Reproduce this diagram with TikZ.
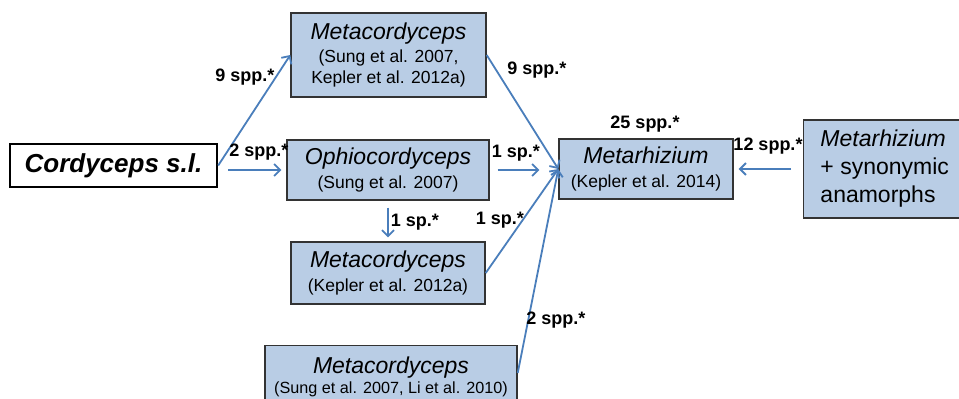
\documentclass[tikz,border=0pt]{standalone}
\usepackage{fontspec}
\setmainfont{Liberation Sans}
\usepackage{xcolor}
\usepackage{tikz}
\usetikzlibrary{arrows.meta,calc,positioning}
\definecolor{taxfill}{HTML}{B9CDE5}
\definecolor{taxarrow}{HTML}{4A7EBB}
\newcommand{\taxname}{\fontsize{23}{26}\selectfont\itshape}

\begin{document}
\begin{tikzpicture}[
  x=1pt, y=-1pt,
  tbox/.style   = {draw=black!80, fill=taxfill, line width=1.4pt,
                   align=center, inner sep=2pt,
                   font=\fontsize{17.5}{20.5}\selectfont,
                   minimum width=#1},
  sbox/.style   = {draw=black, fill=white, line width=2.4pt,
                   inner sep=2pt, minimum width=207pt, minimum height=43pt,
                   font=\fontsize{26}{28}\selectfont\bfseries\itshape},
  arr/.style    = {-{Straight Barb[length=6pt,width=12pt,line width=1.8pt]},
                   line width=1.8pt, draw=taxarrow},
  cnt/.style    = {font=\fontsize{18}{20}\selectfont\bfseries, inner sep=0pt},
]
\useasboundingbox (0,0) rectangle (959,399);

% boxes
\node[sbox] (cord) at (113.5,165.5) {Cordyceps s.l.};
\node[tbox=195pt, minimum height=84pt] (metaA) at (388.5,55)
  {{\taxname Metacordyceps}\\[2.5pt](Sung et al. 2007,\\Kepler et al. 2012a)};
\node[tbox=202pt, minimum height=60pt] (ophio) at (388,170)
  {{\taxname Ophiocordyceps}\\[4pt](Sung et al. 2007)};
\node[tbox=194pt, minimum height=62pt] (metaB) at (388,273)
  {{\taxname Metacordyceps}\\[3pt](Kepler et al. 2012a)};
\node[tbox=252pt, minimum height=62pt, anchor=north,
      font=\fontsize{16.2}{19}\selectfont] (metaC) at (391,345)
  {{\taxname Metacordyceps}\\[1pt](Sung et al. 2007, Li et al. 2010)};
\node[tbox=174pt, minimum height=60pt] (metz) at (646,169)
  {{\taxname Metarhizium}\\[3.5pt](Kepler et al. 2014)};
\node[tbox=162pt, minimum height=98pt, align=left, anchor=west,
      font=\fontsize{23}{28}\selectfont] (metr) at (803,169)
  {\textit{Metarhizium}\\+ synonymic\\anamorphs};

% connectors
\draw[arr] (cord.east) -- (metaA.west);
\draw[arr, shorten <=10pt, shorten >=5pt] (cord.east |- ophio.west) -- (ophio.west);
\draw[arr] (metaA.east) -- (metz.west);
\draw[arr, shorten <=8pt, shorten >=19pt] (ophio.east) -- (metz.west |- ophio.east);
\draw[arr, shorten <=7pt, shorten >=4pt] (ophio.south) -- (metaB.north);
\draw[arr] (metaB.east) -- (metz.west);
\draw[arr] (metaC.east |- 0,373) -- (metz.west);
\draw[arr, shorten <=12pt, shorten >=5pt] (metr.west) -- (metz.east);

% counts
\node[cnt] (nA)   at (245,77)  {9 spp.*};
\node[cnt] (nO)   at (259,152) {2 spp.*};
\node[cnt] (nAM)  at (537,70)  {9 spp.*};
\node[cnt] (nOM)  at (516,153) {1 sp.*};
\node[cnt] (nOB)  at (415,222) {1 sp.*};
\node[cnt] (nBM)  at (500,220) {1 sp.*};
\node[cnt] (nCM)  at (556,320) {2 spp.*};
\node[cnt] (nM)   at (645,124) {25 spp.*};
\node[cnt] (nRM)  at (768,146) {12 spp.*};
\end{tikzpicture}
\end{document}
